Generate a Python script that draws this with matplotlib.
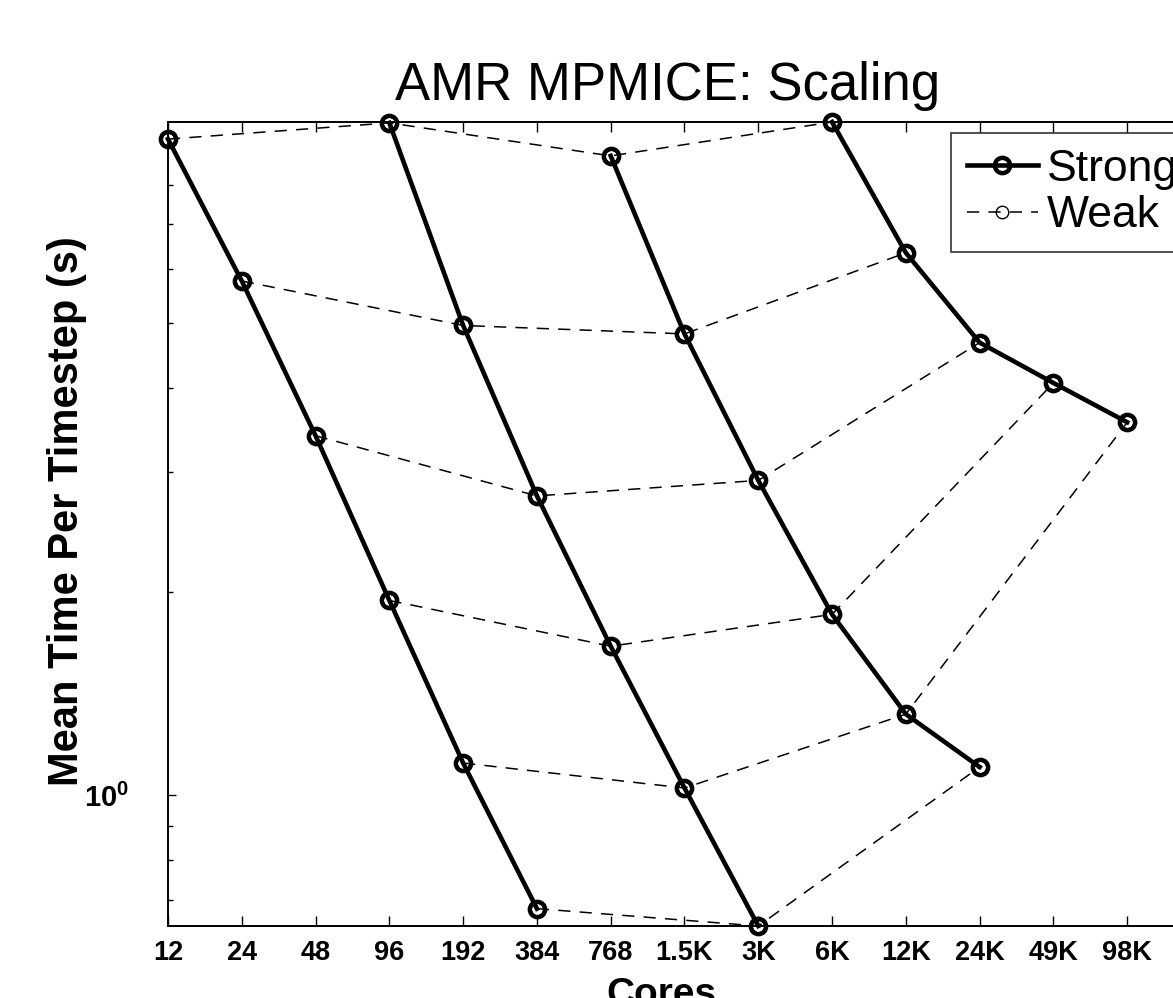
import matplotlib
matplotlib.use("Agg")
import matplotlib.pyplot as plt
from matplotlib import rc
from matplotlib.ticker import FixedLocator, FixedFormatter, NullFormatter

# x positions (cores) and their tick labels
cores = [12, 24, 48, 96, 192, 384, 768, 1536, 3072, 6144, 12288, 24576, 49152, 98304]
core_labels = ["12", "24", "48", "96", "192", "384", "768", "1.5K", "3K", "6K",
               "12K", "24K", "49K", "98K"]

# strong scaling runs (cores, seconds)
strong1_x = [12, 24, 48, 96, 192, 384]
strong1_y = [9.34, 5.76, 3.40, 1.94, 1.115, 0.679]
strong2_x = [96, 192, 384, 768, 1536, 3072]
strong2_y = [9.87, 4.95, 2.77, 1.66, 1.024, 0.640]
strong3_x = [768, 1536, 3072, 6144, 12288, 24576]
strong3_y = [8.82, 4.81, 2.92, 1.85, 1.317, 1.10]
strong4_x = [6144, 12288, 24576, 49152, 98304]
strong4_y = [9.90, 6.34, 4.67, 4.07, 3.56]

# weak scaling runs (cores, seconds)
weak1_x = [12, 96, 768, 6144]
weak1_y = [9.34, 9.87, 8.82, 9.90]
weak2_x = [24, 192, 1536, 12288]
weak2_y = [5.76, 4.95, 4.81, 6.34]
weak3_x = [48, 384, 3072, 24576]
weak3_y = [3.40, 2.77, 2.92, 4.67]
weak4_x = [96, 768, 6144, 49152]
weak4_y = [1.94, 1.66, 1.85, 4.07]
weak5_x = [192, 1536, 12288, 98304]
weak5_y = [1.115, 1.024, 1.317, 3.56]
weak6_x = [384, 3072, 24576]
weak6_y = [0.679, 0.640, 1.10]

rc('font', family='Liberation Sans')
rc('mathtext', fontset='custom', rm='Liberation Sans:bold', it='Liberation Sans:bold',
   bf='Liberation Sans:bold')

fig = plt.figure(figsize=(11.73, 9.98), dpi=100)
# axes runs past the right edge, the original picture is cropped there
ax = fig.add_axes([168 / 1173, 72 / 998, 1033 / 1173, 804 / 998])

strong = [(strong1_x, strong1_y), (strong2_x, strong2_y),
          (strong3_x, strong3_y), (strong4_x, strong4_y)]
weak = [(weak1_x, weak1_y), (weak2_x, weak2_y), (weak3_x, weak3_y),
        (weak4_x, weak4_y), (weak5_x, weak5_y), (weak6_x, weak6_y)]

for i, (x, y) in enumerate(weak):
    ax.plot(x, y, color='black', lw=1.1, dashes=(8, 6), marker='o', ms=9,
            mfc='none', mec='black', mew=1.0, clip_on=False,
            label='Weak' if i == 0 else None, zorder=2)

for i, (x, y) in enumerate(strong):
    ax.plot(x, y, color='black', lw=3.3, ls='-', marker='o', ms=11,
            mfc='none', mec='black', mew=3.2, clip_on=False,
            label='Strong' if i == 0 else None, zorder=3)

ax.set_xscale('log', base=2)
ax.set_yscale('log')
ax.set_xlim(12, 196608)
ax.set_ylim(0.640, 9.90)

ax.xaxis.set_major_locator(FixedLocator(cores))
ax.xaxis.set_major_formatter(FixedFormatter(core_labels))
ax.xaxis.set_minor_locator(FixedLocator([]))

ax.yaxis.set_major_locator(FixedLocator([1.0]))
ax.yaxis.set_major_formatter(FixedFormatter([r'$10^0$']))
ax.yaxis.set_minor_locator(FixedLocator([0.7, 0.8, 0.9, 2, 3, 4, 5, 6, 7, 8]))
ax.yaxis.set_minor_formatter(NullFormatter())

ax.tick_params(axis='x', which='major', direction='in', length=7, width=1.0,
               top=True, labelsize=19.5, pad=10)
ax.tick_params(axis='y', which='major', direction='in', length=6, width=1.0,
               right=True, labelsize=21, pad=28)
ax.tick_params(axis='y', which='minor', direction='in', length=3.5, width=1.0,
               right=True)
for lab in ax.get_xticklabels() + ax.get_yticklabels():
    lab.set_fontweight('bold')

for sp in ax.spines.values():
    sp.set_linewidth(1.4)

handles, labels = ax.get_legend_handles_labels()
order = [labels.index('Strong'), labels.index('Weak')]
leg = ax.legend([handles[k] for k in order], [labels[k] for k in order],
                loc='upper left', bbox_to_anchor=(0.758, 0.986), borderaxespad=0,
                fontsize=32, frameon=True, fancybox=False, edgecolor='black',
                handlelength=1.6, handletextpad=0.2, labelspacing=0.12,
                borderpad=0.35)
leg.get_frame().set_linewidth(1.2)

fig.text(668 / 1173, 1 - 100 / 998, 'AMR MPMICE: Scaling', fontsize=38,
         ha='center', va='baseline')
fig.text(67 / 1173, 1 - 511 / 998, 'Mean Time Per Timestep (s)', fontsize=30,
         fontweight='bold', rotation=90, ha='center', va='center')
fig.text(661 / 1173, 1 - 977 / 998, 'Cores', fontsize=28, fontweight='bold',
         ha='center', va='top')

plt.savefig("out.png", dpi=100)
